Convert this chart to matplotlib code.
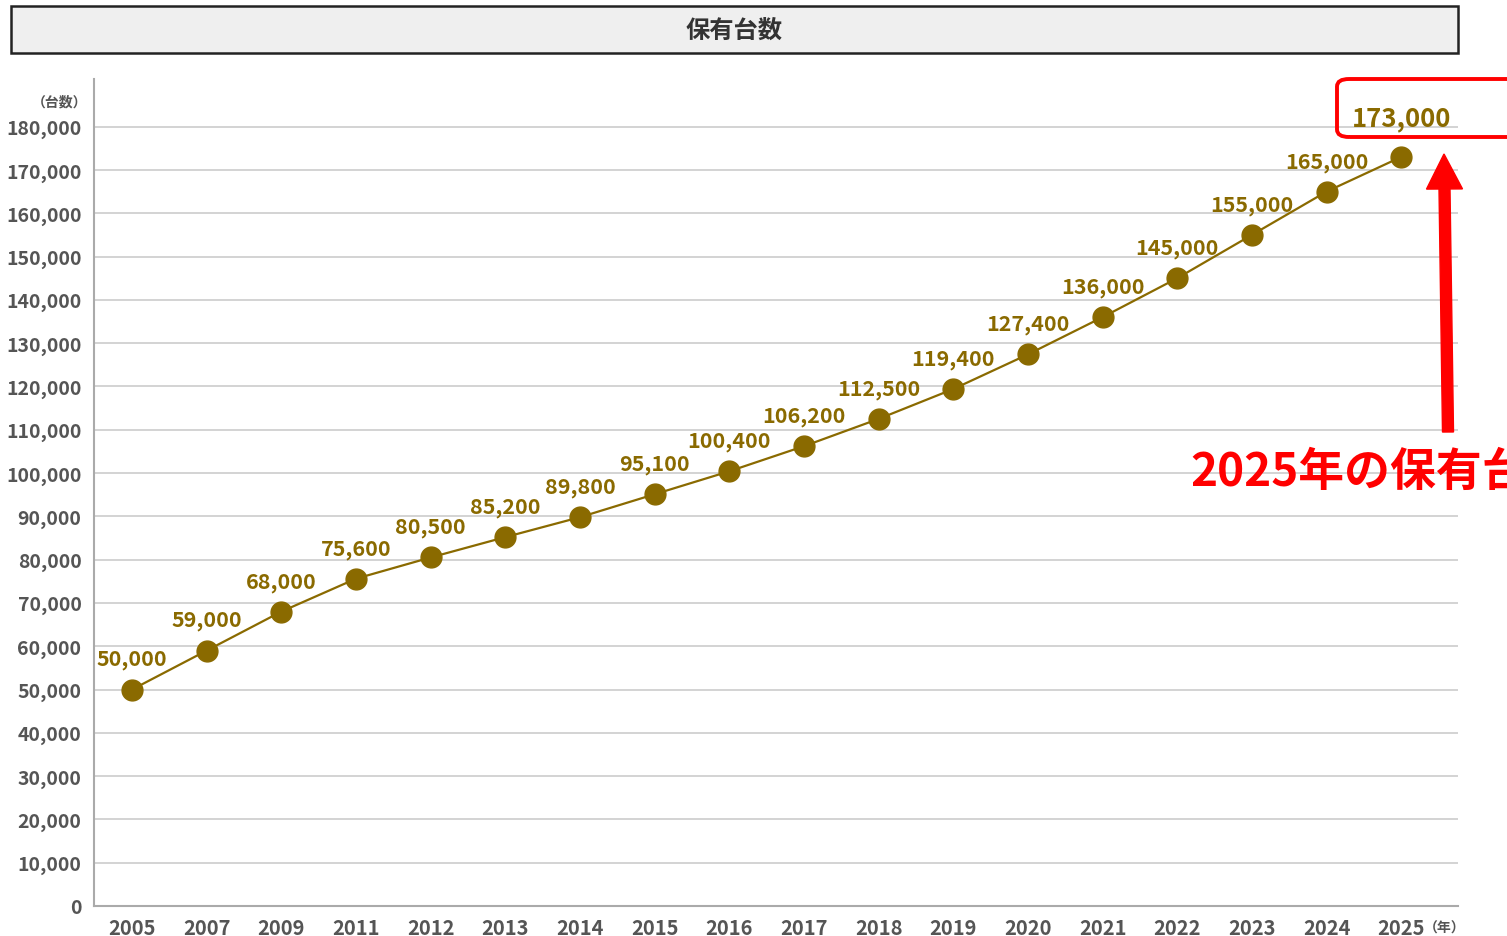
import matplotlib
matplotlib.use("Agg")
import matplotlib.pyplot as plt
from matplotlib.patches import FancyBboxPatch, Rectangle, FancyArrow
import numpy as np

plt.rcParams['font.family'] = ['Noto Sans CJK JP', 'DejaVu Sans']

years = ["2005", "2007", "2009", "2011", "2012", "2013", "2014", "2015", "2016",
         "2017", "2018", "2019", "2020", "2021", "2022", "2023", "2024", "2025"]
units = [50000, 59000, 68000, 75600, 80500, 85200, 89800, 95100, 100400,
         106200, 112500, 119400, 127400, 136000, 145000, 155000, 165000, 173000]
yticks = list(range(0, 180001, 10000))

title = "保有台数"
y_unit = "（台数）"
x_unit = "（年）"
callout = "2025年の保有台数"

olive = "#8a6a00"
tick_gray = "#555555"

W, H = 1507, 937
fig = plt.figure(figsize=(W / 100, H / 100), dpi=100)

def fx(px):
    return px / W

def fy(py):
    return 1 - py / H

ax = fig.add_axes([fx(94), fy(907), fx(1458) - fx(94), fy(80) - fy(907)])
x = np.arange(len(years))
ax.set_xlim(-0.51, 17.76)
ax.set_ylim(0, 191000)

for v in yticks[1:]:
    ax.axhline(v, color="#cccccc", lw=1.2, zorder=0)

ax.plot(x, units, color=olive, lw=1.6, zorder=2)
ax.plot(x, units, 'o', color=olive, ms=15, zorder=3)

for i, (xi, v) in enumerate(zip(x, units)):
    if i == len(units) - 1:
        ax.annotate(f"{v:,}", (xi, v), xytext=(0, 28), textcoords="offset points",
                    ha="center", va="center", color=olive, fontsize=18.5, fontweight="bold")
    else:
        ax.annotate(f"{v:,}", (xi, v), xytext=(0, 22), textcoords="offset points",
                    ha="center", va="center", color=olive, fontsize=15.5, fontweight="bold")

ax.set_xticks(x)
ax.set_xticklabels(years, fontsize=14.5, fontweight="bold", color=tick_gray)
ax.set_yticks(yticks)
ax.set_yticklabels([f"{v:,}" for v in yticks], fontsize=14, fontweight="bold", color=tick_gray)
ax.tick_params(axis="both", length=0)
ax.tick_params(axis="y", pad=9)
ax.tick_params(axis="x", pad=8)

for s in ["top", "right"]:
    ax.spines[s].set_visible(False)
for s in ["left", "bottom"]:
    ax.spines[s].set_color("#aaaaaa")
    ax.spines[s].set_linewidth(1.5)

fig.text(fx(60), fy(102), y_unit, ha="center", va="center", fontsize=10,
         fontweight="bold", color=tick_gray)
fig.text(fx(1445), fy(929), x_unit, ha="center", va="center", fontsize=10,
         fontweight="bold", color=tick_gray)

# Title box
fig.patches.append(Rectangle((fx(11), fy(54)), fx(1458) - fx(11), fy(7) - fy(54),
                             transform=fig.transFigure, facecolor="#efefef",
                             edgecolor="#222222", lw=1.8, zorder=5))
fig.text(fx(734), fy(31), title, ha="center", va="center", fontsize=17.5,
         fontweight="bold", color="#333333", zorder=6)

# Red callout box
fig.patches.append(FancyBboxPatch((fx(1337), fy(138)), fx(1530) - fx(1337), fy(80) - fy(138),
                                  boxstyle="round,pad=0,rounding_size=0.008",
                                  transform=fig.transFigure, facecolor="none",
                                  edgecolor="#ff0000", lw=2.8, zorder=6))

# Red arrow
fig.patches.append(FancyArrow(fx(1448), fy(433), fx(1444) - fx(1448), fy(155) - fy(433),
                              width=fx(11), head_width=fx(36), head_length=(fy(155) - fy(190)),
                              length_includes_head=True, transform=fig.transFigure,
                              color="#ff0000", zorder=6))

fig.text(fx(1190), fy(473), callout, ha="left", va="center", fontsize=33,
         fontweight="bold", color="#ff0000", zorder=6)

fig.savefig("out.png", dpi=100)
